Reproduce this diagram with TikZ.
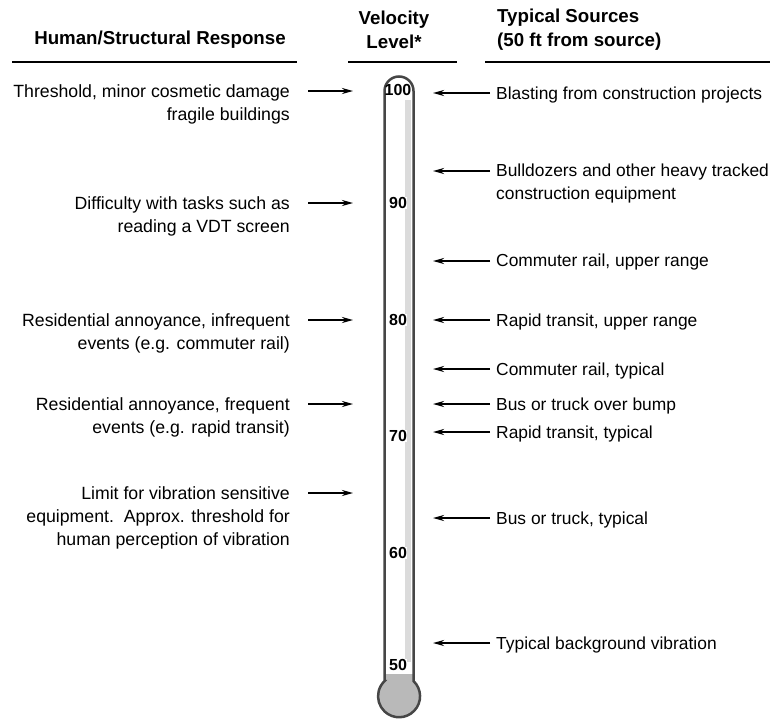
\documentclass[tikz,border=0pt]{standalone}
\usepackage{fontspec}
\setmainfont{Liberation Sans}
\usetikzlibrary{arrows.meta}

\begin{document}
\begin{tikzpicture}[x=1pt,y=-1pt,
  resp/.style={anchor=north east,align=right,inner sep=0pt,font=\fontsize{17.7}{23}\selectfont},
  src/.style={anchor=north west,align=left,inner sep=0pt,font=\fontsize{17.4}{22.6}\selectfont},
  head/.style={inner sep=0pt,font=\bfseries\fontsize{18.7}{24}\selectfont},
  lvl/.style={inner sep=0.5pt,fill=white,font=\bfseries\fontsize{16}{16}\selectfont},
  pointer/.style={line width=2.2pt,-{Stealth[length=11pt,width=6pt]}},
  rule/.style={line width=2pt},
  tube/.style={draw=gray!55!black,line width=2.5pt}]

        \useasboundingbox (0,0) rectangle (773,718);

        \node[head] (hresp) at (160,40) {Human/Structural Response};
        \node[head,align=center] (hvel) at (394,30) {Velocity\\Level*};
        \node[head,anchor=west,align=left] (hsrc) at (497,30) {Typical Sources\\(50 ft from source)};
        \draw[rule] (12,62) -- (297,62);
        \draw[rule] (348,62) -- (457,62);
        \draw[rule] (485,62) -- (770,62);

        \pgfmathsetmacro{\tl}{384.5}
        \pgfmathsetmacro{\tr}{413.5}

        \begin{scope}
          \clip (\tl,681) -- (\tl,91) arc[start angle=180,end angle=360,radius=14.5]
            -- (\tr,681) arc[start angle=-46.5,end angle=226.5,radius=21] -- cycle;
          \fill[white] (370,60) rectangle (430,720);
          \fill[gray!28] (405,100) rectangle (411,662);
          \fill[gray!55] (370,674) rectangle (430,720);
        \end{scope}
        \draw[tube] (\tl,681) -- (\tl,91) arc[start angle=180,end angle=360,radius=14.5]
          -- (\tr,681) arc[start angle=-46.5,end angle=226.5,radius=21] -- cycle;

        \node[lvl,fill=none] (v100) at (398,90) {100};
        \node[lvl] (v90) at (398,203) {90};
        \node[lvl] (v80) at (398,320) {80};
        \node[lvl] (v70) at (398,436) {70};
        \node[lvl] (v60) at (398,553) {60};
        \node[lvl] (v50) at (398,665) {50};

        \node[resp] (thresh) at (290,84) {Threshold, minor cosmetic damage\\fragile buildings};
        \node[resp] (vdt) at (290,196) {Difficulty with tasks such as\\reading a VDT screen};
        \node[resp] (infreq) at (290,313) {Residential annoyance, infrequent\\events (e.g. commuter rail)};
        \node[resp] (freq) at (290,397) {Residential annoyance, frequent\\events (e.g. rapid transit)};
        \node[resp] (limit) at (290,486) {Limit for vibration sensitive\\equipment.~~Approx. threshold for\\human perception of vibration};

        \coordinate (thresh-a) at (308,91);   \coordinate (thresh-b) at (353,91);
        \coordinate (vdt-a) at (308,203);     \coordinate (vdt-b) at (353,203);
        \coordinate (infreq-a) at (308,320);  \coordinate (infreq-b) at (353,320);
        \coordinate (freq-a) at (308,404);    \coordinate (freq-b) at (353,404);
        \coordinate (limit-a) at (308,493);   \coordinate (limit-b) at (353,493);
        \draw[pointer] (thresh-a) -- (thresh-b);
        \draw[pointer] (vdt-a) -- (vdt-b);
        \draw[pointer] (infreq-a) -- (infreq-b);
        \draw[pointer] (freq-a) -- (freq-b);
        \draw[pointer] (limit-a) -- (limit-b);

        \node[src] (blast) at (496,87) {Blasting from construction projects};
        \node[src] (dozer) at (496,164) {Bulldozers and other heavy tracked\\construction equipment};
        \node[src] (crup) at (496,254) {Commuter rail, upper range};
        \node[src] (rtup) at (496,314) {Rapid transit, upper range};
        \node[src] (crtyp) at (496,363) {Commuter rail, typical};
        \node[src] (bump) at (496,398) {Bus or truck over bump};
        \node[src] (rttyp) at (496,426) {Rapid transit, typical};
        \node[src] (bus) at (496,512) {Bus or truck, typical};
        \node[src] (bg) at (496,637) {Typical background vibration};

        \coordinate (blast-a) at (490,93);    \coordinate (blast-b) at (433,93);
        \coordinate (dozer-a) at (490,171);   \coordinate (dozer-b) at (433,171);
        \coordinate (crup-a) at (490,261);    \coordinate (crup-b) at (433,261);
        \coordinate (rtup-a) at (490,320);    \coordinate (rtup-b) at (433,320);
        \coordinate (crtyp-a) at (490,369);   \coordinate (crtyp-b) at (433,369);
        \coordinate (bump-a) at (490,404);    \coordinate (bump-b) at (433,404);
        \coordinate (rttyp-a) at (490,432);   \coordinate (rttyp-b) at (433,432);
        \coordinate (bus-a) at (490,518);     \coordinate (bus-b) at (433,518);
        \coordinate (bg-a) at (490,643);      \coordinate (bg-b) at (433,643);
        \draw[pointer] (blast-a) -- (blast-b);
        \draw[pointer] (dozer-a) -- (dozer-b);
        \draw[pointer] (crup-a) -- (crup-b);
        \draw[pointer] (rtup-a) -- (rtup-b);
        \draw[pointer] (crtyp-a) -- (crtyp-b);
        \draw[pointer] (bump-a) -- (bump-b);
        \draw[pointer] (rttyp-a) -- (rttyp-b);
        \draw[pointer] (bus-a) -- (bus-b);
        \draw[pointer] (bg-a) -- (bg-b);
      \end{tikzpicture}
\end{document}
